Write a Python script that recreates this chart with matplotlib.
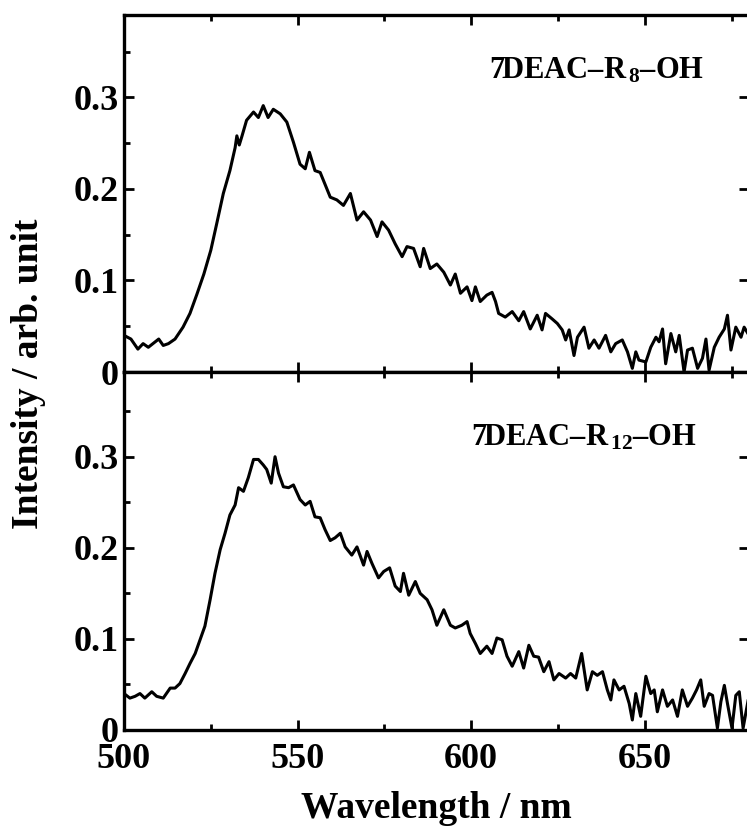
import matplotlib
matplotlib.use("Agg")
import matplotlib.pyplot as plt
from matplotlib.ticker import MultipleLocator, FixedLocator, FixedFormatter

plt.rcParams['font.family'] = ['Liberation Serif', 'DejaVu Serif']
plt.rcParams['font.weight'] = 'bold'
plt.rcParams['mathtext.fontset'] = 'custom'
plt.rcParams['mathtext.rm'] = 'Liberation Serif:bold'
plt.rcParams['mathtext.bf'] = 'Liberation Serif:bold'
plt.rcParams['mathtext.it'] = 'Liberation Serif:bold'
plt.rcParams['mathtext.default'] = 'rm'

# ---- data ----
wl_r8 = [500, 502, 504, 505.5, 507, 510, 511.3, 512.8, 514.7, 517, 519, 521, 523, 525,
         526.7, 528.6, 530.5, 532, 532.5, 533.2, 534, 535.3, 537.3, 538.7, 540.1, 541.5,
         543, 545, 546.9, 548.8, 550.7, 552.2, 553.4, 555, 556.5, 557.9, 559.4, 561.3,
         563.2, 565.2, 567.1, 569, 571, 572.9, 574.3, 576.2, 578.1, 580.1, 581.5, 583.4,
         585.3, 586.3, 588.2, 590.1, 592.1, 594, 595.4, 596.9, 598.8, 600.2, 601.2, 602.6,
         604.5, 606, 607, 607.9, 609.8, 611.8, 613.7, 615.1, 617, 619, 620.4, 621.4, 623.3,
         624.8, 626.2, 627.2, 628.2, 629.6, 630.6, 632.5, 633.9, 635.4, 636.8, 638.7, 640.2,
         641.6, 643.5, 645, 646.4, 647.4, 648.3, 650.3, 651.7, 653.2, 654.1, 655.1, 656,
         657.5, 658.9, 659.9, 661.3, 662.3, 663.7, 665.2, 666.6, 667.6, 668.5, 670, 671.4,
         672.9, 673.8, 674.8, 676.2, 677.7, 678.6, 680]
int_r8 = [0.040, 0.036, 0.025, 0.031, 0.027, 0.036, 0.029, 0.031, 0.036, 0.049, 0.064, 0.085,
          0.107, 0.133, 0.162, 0.195, 0.220, 0.245, 0.258, 0.248, 0.258, 0.275, 0.284, 0.278,
          0.291, 0.278, 0.287, 0.282, 0.273, 0.251, 0.227, 0.222, 0.240, 0.220, 0.218, 0.205,
          0.191, 0.188, 0.182, 0.195, 0.166, 0.175, 0.166, 0.148, 0.164, 0.155, 0.140, 0.126,
          0.137, 0.135, 0.115, 0.135, 0.113, 0.118, 0.109, 0.095, 0.107, 0.086, 0.093, 0.078,
          0.093, 0.077, 0.084, 0.087, 0.077, 0.064, 0.060, 0.066, 0.056, 0.066, 0.047, 0.062,
          0.046, 0.064, 0.058, 0.053, 0.046, 0.035, 0.046, 0.018, 0.038, 0.049, 0.026, 0.035,
          0.026, 0.040, 0.022, 0.031, 0.035, 0.022, 0.004, 0.022, 0.013, 0.011, 0.027, 0.038,
          0.033, 0.047, 0.009, 0.042, 0.022, 0.040, 0.000, 0.024, 0.026, 0.004, 0.015, 0.036,
          0.002, 0.027, 0.038, 0.047, 0.062, 0.024, 0.049, 0.038, 0.049, 0.040]

wl_r12 = [500, 501.7, 503.2, 504.6, 506, 508, 509.4, 511.3, 513.3, 514.7, 516.1, 517.6, 519,
          520.5, 521.9, 523.3, 524.8, 526.2, 527.7, 529.1, 530.5, 532, 533, 534.4, 535.8,
          537.3, 538.7, 540.1, 541.1, 542.4, 543.5, 544.5, 545.9, 547.4, 548.8, 550.7, 552.2,
          553.6, 555, 556.5, 557.9, 559.4, 560.8, 562.3, 563.7, 565.6, 567.1, 569, 570, 571.4,
          573.3, 574.8, 576.5, 578.1, 579.6, 580.5, 582, 583.9, 585.3, 587.3, 588.7, 590.1,
          592.1, 594, 595.4, 597.3, 598.8, 599.7, 601.2, 602.6, 604.5, 606, 607.4, 608.9,
          610.3, 611.8, 613.7, 615.1, 616.6, 618, 619.4, 620.9, 622.4, 623.8, 625.3, 627.2,
          628.6, 630.1, 631.8, 633.4, 634.9, 636.3, 637.8, 639.2, 640.2, 641.1, 642.6, 644,
          645.5, 646.4, 647.4, 648.8, 650.3, 651.7, 652.7, 653.6, 655.1, 656.5, 658, 659.4,
          660.8, 662.3, 663.7, 664.9, 666.1, 667.1, 668.5, 669.5, 670.9, 671.9, 672.9, 673.8,
          675.1, 676.2, 677.2, 678.3, 680]
int_r12 = [0.040, 0.035, 0.037, 0.040, 0.035, 0.042, 0.037, 0.035, 0.046, 0.046, 0.051, 0.062,
           0.073, 0.084, 0.099, 0.114, 0.143, 0.172, 0.198, 0.216, 0.236, 0.247, 0.266, 0.262,
           0.277, 0.297, 0.297, 0.291, 0.286, 0.271, 0.300, 0.282, 0.267, 0.266, 0.269, 0.253,
           0.247, 0.251, 0.234, 0.233, 0.220, 0.208, 0.211, 0.216, 0.201, 0.192, 0.201, 0.181,
           0.196, 0.183, 0.167, 0.174, 0.178, 0.158, 0.152, 0.172, 0.148, 0.163, 0.150, 0.143,
           0.132, 0.115, 0.132, 0.115, 0.112, 0.115, 0.119, 0.106, 0.095, 0.084, 0.092, 0.084,
           0.101, 0.099, 0.081, 0.070, 0.086, 0.068, 0.093, 0.081, 0.080, 0.064, 0.075, 0.055,
           0.062, 0.057, 0.062, 0.057, 0.084, 0.044, 0.064, 0.060, 0.064, 0.044, 0.033, 0.055,
           0.044, 0.048, 0.029, 0.011, 0.040, 0.015, 0.059, 0.040, 0.044, 0.020, 0.044, 0.026,
           0.033, 0.015, 0.044, 0.026, 0.035, 0.044, 0.055, 0.026, 0.040, 0.038, 0.002, 0.031,
           0.049, 0.029, 0.002, 0.038, 0.042, 0.002, 0.038]

labels = ['7DEAC\u2013R$_{\\,8}$\u2013OH', '7DEAC\u2013R$_{\\,12}$\u2013OH']
xticks = [500, 550, 600, 650]
yticks = [0, 0.1, 0.2, 0.3]
ytick_labels = ['0', '0.1', '0.2', '0.3']

W, H = 747, 830
fig = plt.figure(figsize=(W / 100, H / 100), dpi=100)
left = 124 / W
width = 625 / W
ax1 = fig.add_axes([left, 1 - 372 / H, width, (372 - 15) / H])
ax2 = fig.add_axes([left, 1 - 730 / H, width, (730 - 372) / H])

FS = 26
for ax, wl, y, lab, ytop, lab_xy in [(ax1, wl_r8, int_r8, labels[0], 0.39, (667, 0.321)),
                                     (ax2, wl_r12, int_r12, labels[1], 0.393, (665, 0.312))]:
    ax.plot(wl, y, color='black', lw=2.2)
    ax.set_xlim(500, 680)
    ax.set_ylim(0, ytop)
    for s in ax.spines.values():
        s.set_linewidth(2.4)
    ax.xaxis.set_major_locator(FixedLocator(xticks))
    ax.xaxis.set_minor_locator(MultipleLocator(25))
    ax.yaxis.set_major_locator(FixedLocator(yticks))
    ax.yaxis.set_major_formatter(FixedFormatter(ytick_labels))
    ax.yaxis.set_minor_locator(MultipleLocator(0.05))
    ax.tick_params(which='major', direction='in', length=7, width=2, top=True, right=True,
                   labelsize=FS, pad=4)
    ax.tick_params(which='minor', direction='in', length=4, width=2, top=True, right=False)
    for t in ax.get_yticklabels():
        t.set_fontweight('bold')
    ax.text(lab_xy[0], lab_xy[1], lab, ha='right', va='baseline', fontsize=22,
            fontweight='bold')

ax1.tick_params(labelbottom=False)
ax2.tick_params(axis='x', pad=9)
for t in ax2.get_xticklabels():
    t.set_fontweight('bold')
ax2.set_xlabel('Wavelength / nm', fontsize=27, fontweight='bold', labelpad=11)
fig.text(29 / W, 1 - 374 / H, 'Intensity / arb. unit', rotation=90, ha='center', va='center',
         fontsize=27, fontweight='bold')

fig.savefig('out.png', dpi=100)
